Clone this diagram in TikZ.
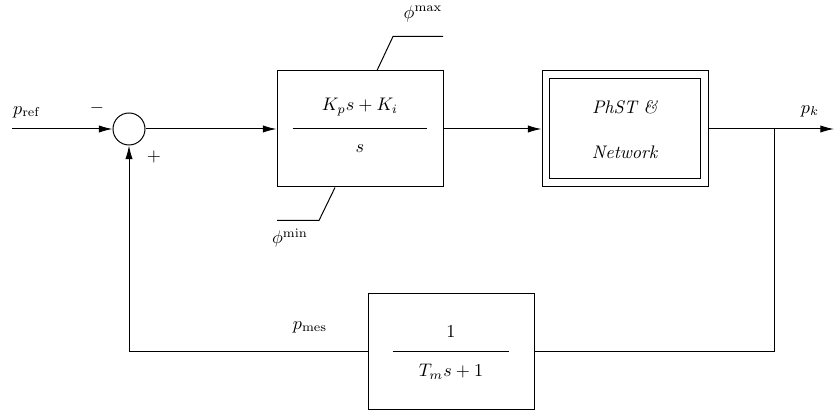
\documentclass[tikz,border=0pt]{standalone}
\usetikzlibrary{arrows.meta}

\tikzset{
  block/.style={draw, minimum width=91.3pt, minimum height=63.8pt, inner sep=0pt},
  sumnode/.style={draw, circle, minimum size=17.6pt, inner sep=0pt},
  sig/.style={-{Latex[length=7.5pt,width=4pt]}},
}

\begin{document}
\begin{tikzpicture}[x=0.55pt,y=-0.55pt,line width=0.55pt]
\useasboundingbox (0,0) rectangle (834,412);
% blocks
\coordinate (in) at (12,129);
\node[sumnode] (sum) at (129,129) {};
\node[block] (pi) at (360,129) {};
\node[block] (plant) at (625,129) {};
\node[block, minimum width=83pt, minimum height=55pt] (plantin) at (plant) {};
\node[block] (meas) at (451,352) {};
\coordinate (out) at (834,129);
\coordinate (branch) at (774,129);
% PI controller
\node (pinum) at (360,107) {$K_ps+K_i$};
\node (piden) at (360,149) {$s$};
\draw (pi.west) ++(16,0) -- ++(134,0);
\draw (pi.north) ++(17,0) -- ++(16,-34) -- ++(50,0);
\draw (pi.south) ++(-25,0) -- ++(-16,33) -- ++(-42,0);
\node (phimax) at (423,14) {$\phi^{\max}$};
\node (phimin) at (290,238) {$\phi^{\min}$};
% plant
\node (plantup) at (625,107) {\textit{PhST \&}};
\node (plantdn) at (625,152) {\textit{Network}};
% measurement filter
\node (measnum) at (451,332) {$1$};
\node (measden) at (451,372) {$T_ms+1$};
\draw (meas.west) ++(25,0) -- ++(116,0);
% signals
\draw[sig] (in) -- (sum);
\draw[sig] (sum) -- (pi);
\draw[sig] (pi) -- (plant);
\draw[sig] (plant) -- (out);
\draw (branch) |- (meas);
\draw[sig] (meas) -| (sum);
% labels
\node (pref) at (27,112) {$p_{\mathrm{ref}}$};
\node (minus) at (97,108) {$-$};
\node (plus) at (154,157) {$+$};
\node (pk) at (810,111) {$p_k$};
\node (pmes) at (310,327) {$p_{\mathrm{mes}}$};
\end{tikzpicture}
\end{document}
